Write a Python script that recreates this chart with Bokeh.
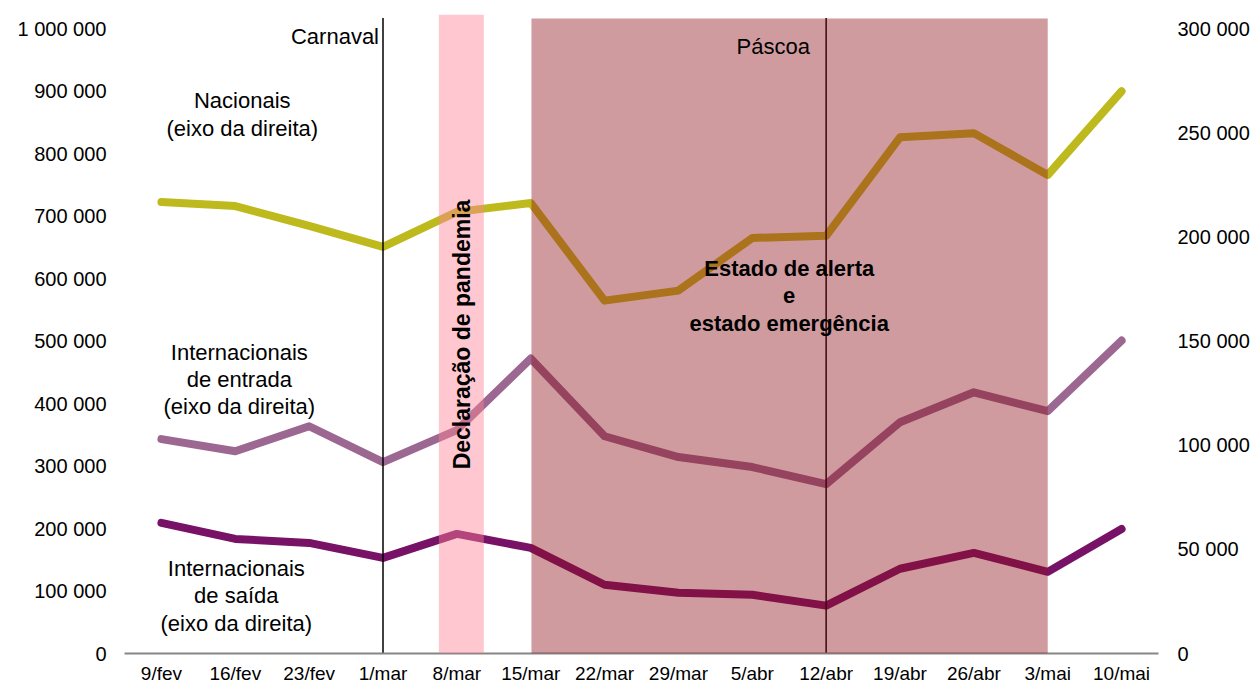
from bokeh.plotting import figure
from bokeh.models import Range1d, LinearAxis, FixedTicker, BoxAnnotation, Label, ColumnDataSource
from bokeh.embed import file_html
from bokeh.resources import INLINE

categories = ["9/fev", "16/fev", "23/fev", "1/mar", "8/mar", "15/mar", "22/mar",
              "29/mar", "5/abr", "12/abr", "19/abr", "26/abr", "3/mai", "10/mai"]
nacionais = [216700, 214800, 205300, 195200, 212000, 216300, 169400,
             174200, 199500, 200500, 247800, 249800, 229700, 269900]
int_entrada = [102900, 97100, 109100, 91900, 107200, 141600, 104300,
               94300, 89500, 81300, 111000, 125400, 116300, 150200]
int_saida = [62700, 55000, 53100, 45900, 57400, 50700, 33000,
             29200, 28200, 23000, 40700, 48300, 39200, 59800]
left_ticks = [0, 100000, 200000, 300000, 400000, 500000, 600000, 700000, 800000, 900000, 1000000]
right_ticks = [0, 50000, 100000, 150000, 200000, 250000, 300000]

def fmt(v):
    return f"{v:,}".replace(",", " ")

FONT = "Liberation Sans"
Y_TOP = 1022500
R_TOP = Y_TOP * 0.3
N = len(categories)
xs = [i + 0.5 for i in range(N)]

p = figure(width=1252, height=686, output_backend="svg", toolbar_location=None,
           x_range=Range1d(0, N), y_range=Range1d(0, Y_TOP),
           min_border_left=124, min_border_right=91, min_border_top=14, min_border_bottom=31)
p.extra_y_ranges = {"right": Range1d(0, R_TOP)}
p.grid.visible = False
p.outline_line_color = None
p.background_fill_color = "white"
p.border_fill_color = "white"

# axes
p.xaxis.ticker = FixedTicker(ticks=xs)
p.xaxis.major_label_overrides = {x: c for x, c in zip(xs, categories)}
p.xaxis.axis_line_color = "#868686"
p.xaxis.axis_line_width = 2
p.xaxis.major_tick_out = 0
p.xaxis.major_tick_in = 0
p.xaxis.major_tick_line_color = None
p.xaxis.minor_tick_line_color = None
p.xaxis.major_label_text_font = FONT
p.xaxis.major_label_text_font_size = "19px"
p.xaxis.major_label_text_color = "black"
p.xaxis.major_label_standoff = 9

p.yaxis.ticker = FixedTicker(ticks=left_ticks)
p.yaxis.major_label_overrides = {t: fmt(t) for t in left_ticks}
p.yaxis.axis_line_color = None
p.yaxis.major_tick_out = 0
p.yaxis.major_tick_in = 0
p.yaxis.major_tick_line_color = None
p.yaxis.minor_tick_line_color = None
p.yaxis.major_label_text_font = FONT
p.yaxis.major_label_text_font_size = "20px"
p.yaxis.major_label_text_color = "black"
p.yaxis.major_label_standoff = 18

ry = LinearAxis(y_range_name="right", ticker=FixedTicker(ticks=right_ticks))
ry.major_label_overrides = {t: fmt(t) for t in right_ticks}
ry.axis_line_color = None
ry.major_tick_out = 0
ry.major_tick_in = 0
ry.major_tick_line_color = None
ry.minor_tick_line_color = None
ry.major_label_text_font = FONT
ry.major_label_text_font_size = "20px"
ry.major_label_text_color = "black"
ry.major_label_standoff = 19
p.add_layout(ry, "right")

src = ColumnDataSource(dict(x=xs, nac=nacionais, ent=int_entrada, sai=int_saida))
for col, color in [("nac", "#BEBA1E"), ("ent", "#9C6891"), ("sai", "#771266")]:
    p.line("x", col, source=src, y_range_name="right", line_color=color,
           line_width=8, line_cap="round", line_join="round")

# bands (semi-transparent, on top of lines)
i_pand = categories.index("8/mar")
p.add_layout(BoxAnnotation(left=i_pand + 0.5 - 18 / 74, right=i_pand + 0.5 + 27 / 74,
                           bottom=0, top=Y_TOP, fill_color="#FF8296", fill_alpha=0.45,
                           line_color=None))
i_a = categories.index("15/mar")
i_b = categories.index("3/mai")
p.add_layout(BoxAnnotation(left=i_a + 0.51, right=i_b + 0.5, bottom=0, top=1016000,
                           fill_color="#90111A", fill_alpha=0.42, line_color=None))

# event lines
for c in ["1/mar", "12/abr"]:
    i = categories.index(c)
    p.segment(x0=[i + 0.5], x1=[i + 0.5], y0=[0], y1=[1017000],
              line_color="black", line_width=1.5)

def px2x(px):
    return (px - 125) / 74.0

def px2y(py):
    return (656 - py) * Y_TOP / 641.0

def lab(px, py, text, align="center", bold=False, angle=0, size="22px"):
    p.add_layout(Label(x=px2x(px), y=px2y(py), text=text, text_align=align,
                       text_baseline="middle", text_font=FONT, text_font_size=size,
                       text_font_style="bold" if bold else "normal", angle=angle,
                       text_color="black"))

lab(243, 101, "Nacionais")
lab(243, 129, "(eixo da direita)")
lab(240, 354, "Internacionais")
lab(240, 381, "de entrada")
lab(240, 408, "(eixo da direita)")
lab(237, 571, "Internacionais")
lab(237, 598, "de saída")
lab(237, 626, "(eixo da direita)")
lab(380, 37, "Carnaval", align="right")
lab(775, 47, "Páscoa")
lab(791, 270, "Estado de alerta", bold=True)
lab(791, 297, "e", bold=True)
lab(791, 325, "estado emergência", bold=True)
lab(463, 336, "Declaração de pandemia", bold=True, angle=1.5707963, size="23px")

open("out.html", "w").write(file_html(p, INLINE))
